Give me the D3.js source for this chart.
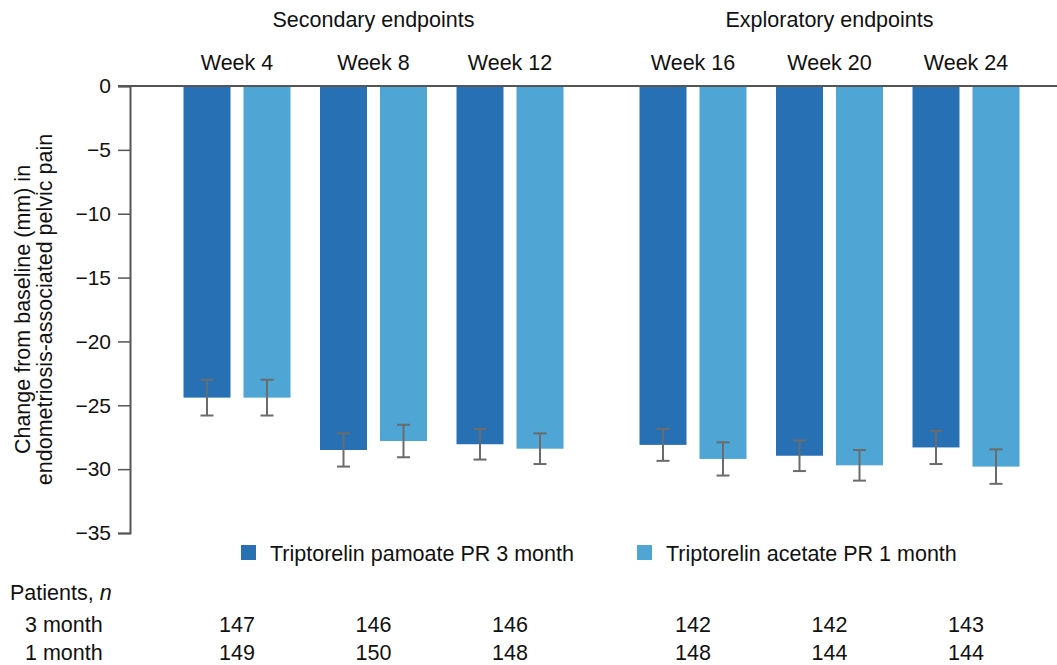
<!DOCTYPE html>
<html>
<head>
<meta charset="utf-8">
<script src="https://cdn.jsdelivr.net/npm/d3@7"></script>
<style>
  body { margin: 0; background: #fff; }
  svg text { font-family: "Liberation Sans", Arial, sans-serif; fill: #111; }
</style>
</head>
<body>
<div id="chart-area"></div>
<script>
const sections = ['Secondary endpoints', 'Exploratory endpoints'];
const weeks = [
  ['Week 4', 'Week 8', 'Week 12'],
  ['Week 16', 'Week 20', 'Week 24']
];
const seriesNames = ['Triptorelin pamoate PR 3 month', 'Triptorelin acetate PR 1 month'];
const threeMonth = [-24.4, -28.5, -28.05, -28.1, -28.95, -28.3];
const threeMonthErr = [1.4, 1.3, 1.2, 1.25, 1.2, 1.3];
const oneMonth = [-24.4, -27.8, -28.4, -29.2, -29.7, -29.8];
const oneMonthErr = [1.4, 1.27, 1.2, 1.3, 1.2, 1.35];
const yTicks = [0, -5, -10, -15, -20, -25, -30, -35];
const rowLabels = ['3 month', '1 month'];
const nThreeMonth = [147, 146, 146, 142, 142, 143];
const nOneMonth = [149, 150, 148, 148, 144, 144];

const colors = ['#2870b4', '#4fa5d4'];

const drawChart = () => {
  const size = { width: 1057, height: 665 };
  const fs = 21.5;
  const svg = d3.select('#chart-area').append('svg')
    .attr('width', size.width)
    .attr('height', size.height);

  const y = d3.scaleLinear().domain([0, -35]).range([86, 533]);

  const xSection = d3.scaleBand().domain(sections)
    .range([168.75, 1034.25]).paddingInner(46.5 / 456).paddingOuter(0);
  const xSeries = d3.scaleBand().domain([0, 1])
    .range([0, xSection.bandwidth() / 3]).paddingInner(13 / 60).paddingOuter(0.2458);

  const allWeeks = weeks.flat();
  const weekX = {};
  weeks.forEach((ws, si) => {
    const xw = d3.scaleBand().domain(ws).range([xSection(sections[si]), xSection(sections[si]) + xSection.bandwidth()]);
    ws.forEach(w => { weekX[w] = { x: xw(w), bw: xw.bandwidth() }; });
  });

  // zero line
  svg.append('line')
    .attr('x1', 118).attr('x2', size.width)
    .attr('y1', y(0)).attr('y2', y(0))
    .attr('stroke', '#555').attr('stroke-width', 2);

  const yAxis = d3.axisLeft(y).tickValues(yTicks).tickSize(12).tickPadding(7)
    .tickFormat(d => d === 0 ? '0' : '\u2212' + Math.abs(d));
  const ya = svg.append('g').attr('transform', 'translate(130,0)').call(yAxis);
  ya.select('.domain').attr('stroke', '#555').attr('stroke-width', 2);
  ya.selectAll('.tick line').attr('stroke', '#555').attr('stroke-width', 1.5);
  ya.selectAll('.tick text').attr('font-size', 21).attr('fill', '#111')
    .attr('font-family', '"Liberation Sans", Arial, sans-serif');

  // y label
  const yl = svg.append('text')
    .attr('transform', `translate(30,${y(-17.5)}) rotate(-90)`)
    .attr('text-anchor', 'middle').attr('font-size', fs);
  yl.append('tspan').attr('x', 0).attr('dy', 0).text('Change from baseline (mm) in');
  yl.append('tspan').attr('x', 0).attr('dy', 22).text('endometriosis-associated pelvic pain');

  // section titles
  svg.selectAll('.section').data(sections).enter().append('text')
    .attr('x', s => xSection(s) + xSection.bandwidth() / 2)
    .attr('y', 27).attr('text-anchor', 'middle').attr('font-size', fs)
    .text(s => s);

  // week labels
  svg.selectAll('.week').data(allWeeks).enter().append('text')
    .attr('x', w => weekX[w].x + weekX[w].bw / 2)
    .attr('y', 70).attr('text-anchor', 'middle').attr('font-size', fs)
    .text(w => w);

  const series = [
    { vals: threeMonth, errs: threeMonthErr },
    { vals: oneMonth, errs: oneMonthErr }
  ];
  const bars = [];
  series.forEach((s, si) => {
    allWeeks.forEach((w, i) => {
      bars.push({ si, w, v: s.vals[i], e: s.errs[i] });
    });
  });

  svg.selectAll('rect.bar').data(bars).enter().append('rect')
    .attr('class', 'bar')
    .attr('x', b => weekX[b.w].x + xSeries(b.si))
    .attr('y', y(0) + 1)
    .attr('width', xSeries.bandwidth())
    .attr('height', b => y(b.v) - y(0) - 1)
    .attr('fill', b => colors[b.si]);

  const cap = 6.5;
  const eg = svg.selectAll('g.err').data(bars).enter().append('g')
    .attr('stroke', '#6b6b6b').attr('stroke-width', 2);
  const cx = b => weekX[b.w].x + xSeries(b.si) + xSeries.bandwidth() / 2;
  eg.append('line').attr('x1', cx).attr('x2', cx)
    .attr('y1', b => y(b.v + b.e)).attr('y2', b => y(b.v - b.e));
  eg.append('line').attr('x1', b => cx(b) - cap).attr('x2', b => cx(b) + cap)
    .attr('y1', b => y(b.v + b.e)).attr('y2', b => y(b.v + b.e));
  eg.append('line').attr('x1', b => cx(b) - cap).attr('x2', b => cx(b) + cap)
    .attr('y1', b => y(b.v - b.e)).attr('y2', b => y(b.v - b.e));

  // legend
  const legX = [241, 637];
  const lg = svg.selectAll('g.leg').data(seriesNames).enter().append('g')
    .attr('transform', (d, i) => `translate(${legX[i]},545)`);
  lg.append('rect').attr('width', 15).attr('height', 15).attr('fill', (d, i) => colors[i]);
  lg.append('text').attr('x', 29).attr('y', 16).attr('font-size', fs).text(d => d);

  // patients table
  svg.append('text').attr('x', 10).attr('y', 600).attr('font-size', fs)
    .html('Patients, <tspan font-style="italic">n</tspan>');
  const rows = [nThreeMonth, nOneMonth];
  const rowY = [632, 660];
  rows.forEach((r, ri) => {
    svg.append('text').attr('x', 25).attr('y', rowY[ri]).attr('font-size', fs).text(rowLabels[ri]);
    svg.selectAll(`.n${ri}`).data(r).enter().append('text')
      .attr('x', (d, i) => weekX[allWeeks[i]].x + weekX[allWeeks[i]].bw / 2)
      .attr('y', rowY[ri]).attr('text-anchor', 'middle').attr('font-size', fs)
      .text(d => d);
  });
};

window.onload = drawChart;
</script>
</body>
</html>
